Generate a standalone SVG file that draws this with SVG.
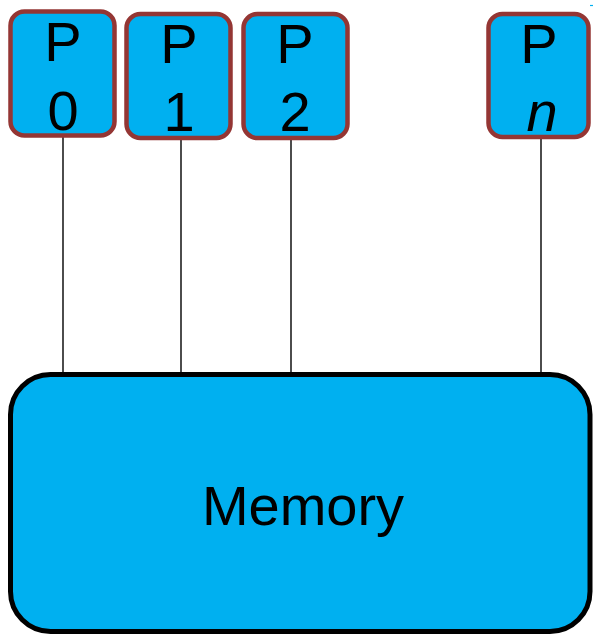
<svg xmlns="http://www.w3.org/2000/svg" width="593" height="635" viewBox="0 0 593 635">
  <style>
    .proc { fill: #00B0F0; stroke: #943634; stroke-width: 4.5; }
    .mem { fill: #00B0F0; stroke: #000000; stroke-width: 5; }
    .label { font-family: "Liberation Sans", Arial, sans-serif; font-size: 56px; fill: #000000; text-anchor: middle; }
    .wire { stroke: #000000; stroke-width: 1.4; fill: none; }
  </style>
  <rect width="593" height="635" fill="#FFFFFF"/>

  <!-- bus wires from each processor down to memory -->
  <g id="connectors">
    <line class="wire" x1="63" y1="136" x2="63" y2="373"/>
    <line class="wire" x1="181" y1="138" x2="181" y2="373"/>
    <line class="wire" x1="291" y1="138" x2="291" y2="373"/>
    <line class="wire" x1="541" y1="137" x2="541" y2="373"/>
  </g>

  <g id="p0">
    <rect class="proc" x="10.5" y="11.5" width="104" height="124" rx="14"/>
    <text class="label" x="63" y="61">P</text>
    <text class="label" x="63" y="130">0</text>
  </g>

  <g id="p1">
    <rect class="proc" x="126.5" y="14" width="104" height="124" rx="14"/>
    <text class="label" x="179" y="63">P</text>
    <text class="label" x="179" y="131">1</text>
  </g>

  <g id="p2">
    <rect class="proc" x="243.5" y="14" width="104" height="124" rx="14"/>
    <text class="label" x="295" y="63">P</text>
    <text class="label" x="295" y="131">2</text>
  </g>

  <g id="pn">
    <rect class="proc" x="488.5" y="14" width="100" height="123" rx="14"/>
    <text class="label" x="539" y="63">P</text>
    <text class="label" x="542" y="131" font-style="italic">n</text>
  </g>

  <line x1="590" y1="5.5" x2="593" y2="5.5" stroke="#00B0F0" stroke-width="1.2"/>

  <g id="memory">
    <rect class="mem" x="10.5" y="374.5" width="579.5" height="257" rx="40"/>
    <text class="label" x="303" y="525">Memory</text>
  </g>
</svg>
